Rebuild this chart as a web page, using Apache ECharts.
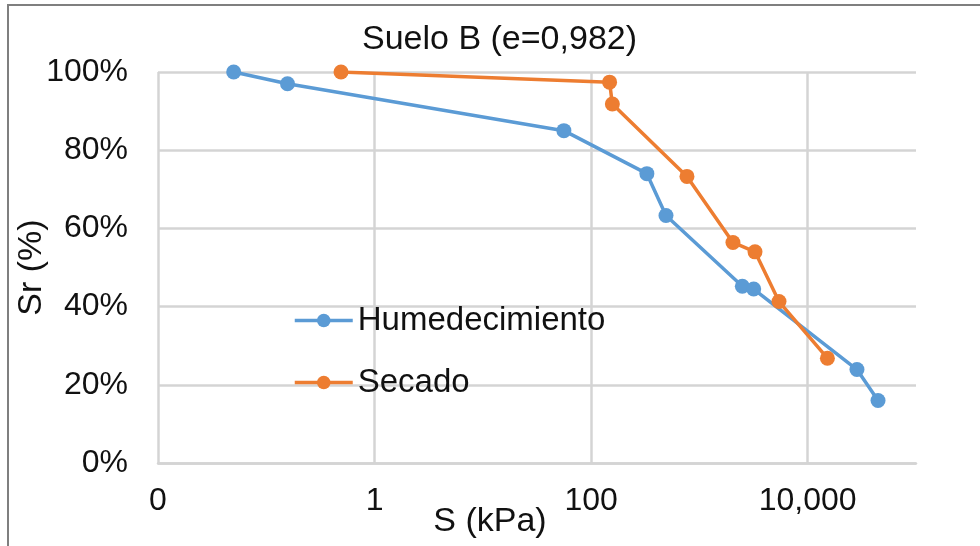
<!DOCTYPE html>
<html>
<head>
<meta charset="utf-8">
<script src="https://cdn.jsdelivr.net/npm/echarts@6/dist/echarts.min.js"></script>
<style>
  html, body { margin: 0; padding: 0; background: #fff; }
  #main { width: 980px; height: 546px; }
</style>
</head>
<body>
<div id="main"></div>
<script>
// succión S (kPa) vs grado de saturación Sr (%)
var humedS  = [0.05, 0.157, 56, 327, 491, 2490, 3170, 28500, 44600];
var humedSr = [100, 97, 85, 74, 63.3, 45.2, 44.5, 23.9, 16];
var secadoS  = [0.49, 148, 157, 767, 2040, 3260, 5430, 15200];
var secadoSr = [100, 97.4, 91.8, 73.3, 56.4, 54, 41.3, 26.8];

var font = 'Liberation Sans, Arial, sans-serif';

function pairs(xs, ys) {
  return xs.map(function (x, i) { return [x, ys[i]]; });
}

var myChart = echarts.init(document.getElementById('main'));
var option = {
  animation: false,
  title: {
    text: 'Suelo B (e=0,982)',
    left: 357,
    top: 18,
    textStyle: { fontFamily: font, fontSize: 34, fontWeight: 'normal', color: '#111' }
  },
  color: ['#5B9BD5', '#ED7D31'],
  legend: {
    orient: 'vertical',
    left: 293,
    top: 304,
    padding: 0,
    itemWidth: 58,
    itemHeight: 17,
    itemGap: 29,
    lineStyle: { width: 3.5 },
    textStyle: { fontFamily: font, fontSize: 33, color: '#111' },
    data: ['Humedecimiento', 'Secado']
  },
  grid: { left: 158, right: 64, top: 72, bottom: 83, outerBoundsMode: 'none', containLabel: false },
  xAxis: {
    type: 'log',
    logBase: 10,
    min: 0.01,
    max: 100000,
    interval: 2,
    name: 'S (kPa)',
    nameLocation: 'middle',
    nameGap: 42,
    nameMoveOverlap: false,
    nameTextStyle: { fontFamily: font, fontSize: 34, color: '#111', padding: [0, 94, 0, 0] },
    axisLine: { show: true, lineStyle: { color: '#d4d4d4', width: 2.5 } },
    axisTick: { show: false },
    axisLabel: {
      fontFamily: font, fontSize: 32, color: '#111', margin: 22,
      showMaxLabel: false,
      formatter: function (v) {
        if (v < 1) return '0';
        return Math.round(v).toLocaleString('en-US');
      }
    },
    splitLine: { show: true, showMaxLine: false, lineStyle: { color: '#d4d4d4', width: 2.5 } }
  },
  yAxis: {
    type: 'value',
    min: 0,
    max: 100,
    interval: 20,
    name: 'Sr (%)',
    nameLocation: 'middle',
    nameGap: 109,
    nameMoveOverlap: false,
    nameTextStyle: { fontFamily: font, fontSize: 34, color: '#111' },
    axisLine: { show: false },
    axisTick: { show: false },
    axisLabel: { fontFamily: font, fontSize: 32, color: '#111', margin: 30, formatter: '{value}%' },
    splitLine: { show: true, lineStyle: { color: '#d4d4d4', width: 2.5 } }
  },
  graphic: [{
    type: 'polyline',
    shape: { points: [[8, 560], [8, 5], [990, 5]] },
    style: { stroke: '#7f7f7f', lineWidth: 2, fill: null },
    silent: true
  }],
  series: [
    {
      name: 'Humedecimiento',
      type: 'line',
      data: pairs(humedS, humedSr),
      symbol: 'circle',
      symbolSize: 15,
      lineStyle: { width: 3.5 }
    },
    {
      name: 'Secado',
      type: 'line',
      data: pairs(secadoS, secadoSr),
      symbol: 'circle',
      symbolSize: 15,
      lineStyle: { width: 3.5 }
    }
  ]
};
myChart.setOption(option);
</script>
</body>
</html>
